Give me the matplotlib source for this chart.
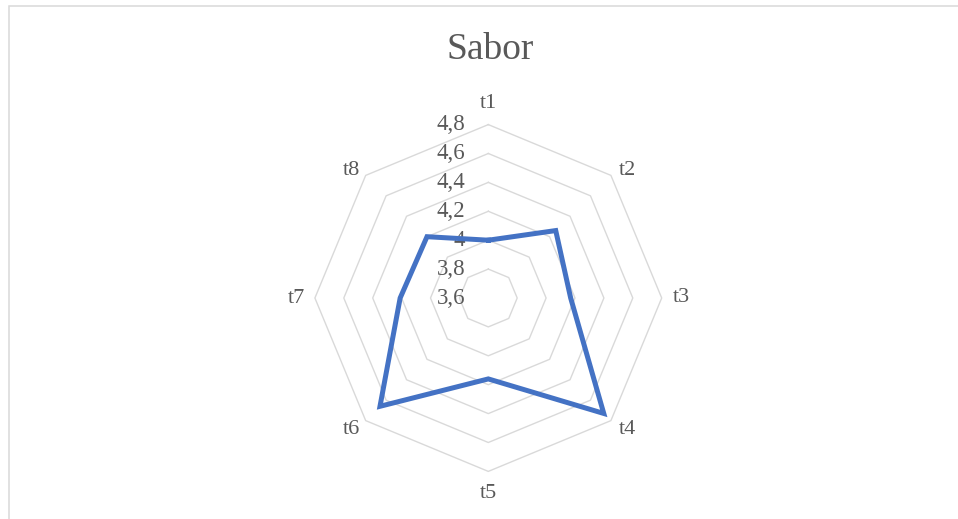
import numpy as np
import matplotlib
matplotlib.use("Agg")
import matplotlib.pyplot as plt
from matplotlib.patches import Rectangle

# --------- DATA ---------
categories = ["t1", "t2", "t3", "t4", "t5", "t6", "t7", "t8"]
sabor = [4.00, 4.26, 4.17, 4.73, 4.16, 4.66, 4.21, 4.20]
ring_levels = [3.8, 4.0, 4.2, 4.4, 4.6, 4.8]
tick_values = [3.6, 3.8, 4.0, 4.2, 4.4, 4.6, 4.8]
tick_labels = ["3,6", "3,8", "4", "4,2", "4,4", "4,6", "4,8"]
# ------------------------

TEXT_COLOR = "#595959"
GRID_COLOR = "#d9d9d9"
LINE_COLOR = "#4472C4"
FONT = ["Liberation Serif", "DejaVu Serif"]

W, H = 958, 519
fig = plt.figure(figsize=(W / 100, H / 100), dpi=100)

# chart border (extends past right/bottom edge like the screenshot)
fig.patches.append(Rectangle((8.5 / W, -0.1), 1.2, 1.1 - 6.5 / H,
                             transform=fig.transFigure, fill=False,
                             edgecolor=GRID_COLOR, linewidth=1.1))

cx, cy, rad = 488.3, 298.0, 173.4
ax = fig.add_axes([(cx - rad) / W, 1 - (cy + rad) / H, 2 * rad / W, 2 * rad / H],
                  projection="polar")
ax.set_theta_zero_location("N")
ax.set_theta_direction(-1)
ax.set_ylim(3.6, 4.8)
ax.grid(False)
ax.spines["polar"].set_visible(False)
ax.set_xticks([])
ax.set_yticks([])
ax.patch.set_alpha(0)

n = len(categories)
theta = np.linspace(0, 2 * np.pi, n, endpoint=False)
theta_closed = np.append(theta, theta[0])

# octagon rings
for lv in ring_levels:
    ax.plot(theta_closed, [lv] * (n + 1), color=GRID_COLOR, linewidth=1.0,
            clip_on=False, zorder=1)

# data line
vals = sabor + sabor[:1]
ax.plot(theta_closed, vals, color=LINE_COLOR, linewidth=3.6,
        solid_joinstyle="miter", clip_on=False, zorder=3)

# value labels left of the t1 axis
for v, lab in zip(tick_values, tick_labels):
    ax.annotate(lab, xy=(0, v), xytext=(-23, 0), textcoords="offset pixels",
                ha="right", va="center", fontsize=16.5, color=TEXT_COLOR,
                family=FONT, zorder=2, annotation_clip=False)


def label_offset(t):
    s, c = np.sin(t), np.cos(t)
    if abs(s) < 1e-6:
        return 0, (21 if c > 0 else -22), "center"
    dx = 8 if s > 0 else -6
    ha = "left" if s > 0 else "right"
    if abs(c) < 1e-6:
        return dx + (3 if s > 0 else -4), 0, ha
    dy = 5 if c > 0 else -9
    return dx, dy, ha


for t, lab in zip(theta, categories):
    dx, dy, ha = label_offset(t)
    ax.annotate(lab, xy=(t, 4.8), xytext=(dx, dy), textcoords="offset pixels",
                ha=ha, va="center", fontsize=16, color=TEXT_COLOR,
                family=FONT, annotation_clip=False)

fig.text(490 / W, 1 - 50 / H, "Sabor", ha="center", va="center",
         fontsize=27, color=TEXT_COLOR, family=FONT)

fig.savefig("out.png", dpi=100, facecolor="white")
